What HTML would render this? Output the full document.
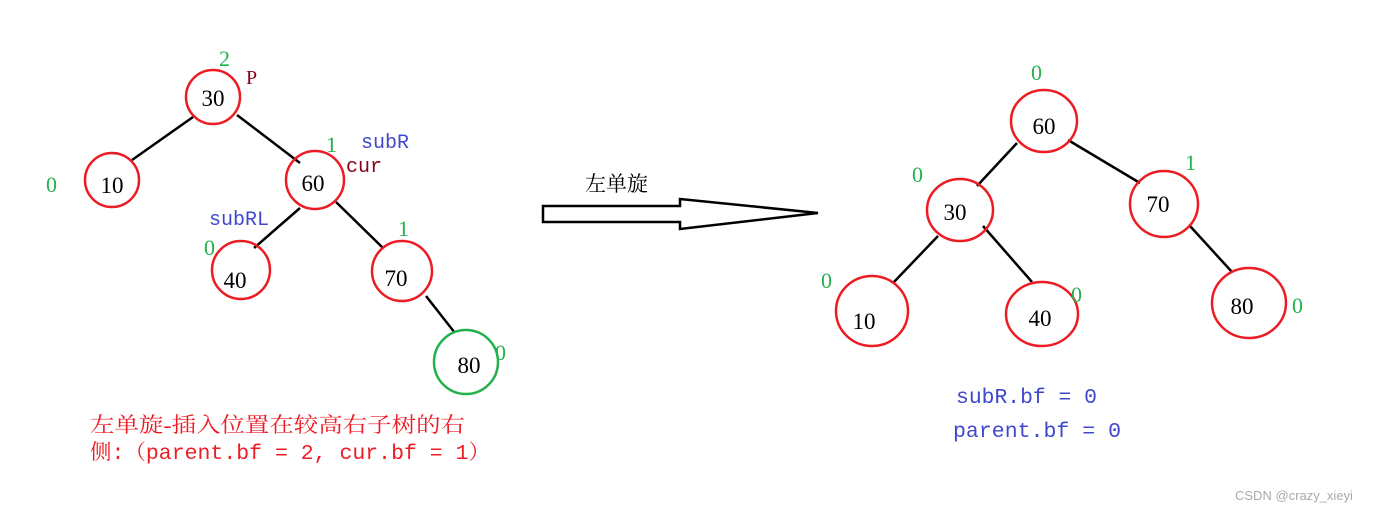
<!DOCTYPE html>
<html><head><meta charset="utf-8"><style>
html,body{margin:0;padding:0;background:#fff;}
svg{display:block;}
text{font-family:"Liberation Serif","Noto Serif CJK SC",serif;}
.n{font-size:23px;fill:#000;text-anchor:middle;}
.g{font-size:22px;fill:#22b14c;}
.b{font-size:20px;fill:#3f48cc;}
.r{font-size:20px;fill:#880015;}
.m{font-family:"Liberation Mono","Noto Serif CJK SC",monospace;}
</style></head><body>
<svg width="1388" height="514" viewBox="0 0 1388 514" xmlns="http://www.w3.org/2000/svg">
<g stroke="#000" stroke-width="2.5">
<line x1="193" y1="117" x2="132" y2="160"/>
<line x1="237" y1="115" x2="300" y2="163"/>
<line x1="300" y1="208" x2="254" y2="248"/>
<line x1="336" y1="202" x2="383" y2="248"/>
<line x1="426" y1="296" x2="455" y2="333"/>
<line x1="1017" y1="143" x2="977" y2="186"/>
<line x1="1068" y1="140" x2="1140" y2="183"/>
<line x1="938" y1="236" x2="893" y2="283"/>
<line x1="983" y1="226" x2="1032" y2="282"/>
<line x1="1190" y1="226" x2="1232" y2="272"/>
</g>
<g fill="none" stroke="#ed1c24" stroke-width="2.5">
<circle cx="213" cy="97" r="27"/>
<circle cx="112" cy="180" r="27"/>
<circle cx="315" cy="180" r="29"/>
<circle cx="241" cy="270" r="29"/>
<circle cx="402" cy="271" r="30"/>
<ellipse cx="1044" cy="121" rx="33" ry="31"/>
<ellipse cx="960" cy="210" rx="33" ry="31"/>
<ellipse cx="1164" cy="204" rx="34" ry="33"/>
<ellipse cx="872" cy="311" rx="36" ry="35"/>
<ellipse cx="1042" cy="314" rx="36" ry="32"/>
<ellipse cx="1249" cy="303" rx="37" ry="35"/>
</g>
<circle cx="466" cy="362" r="32" fill="none" stroke="#22b14c" stroke-width="2.5"/>
<text class="n" x="213" y="106">30</text>
<text class="n" x="112" y="193">10</text>
<text class="n" x="313" y="191">60</text>
<text class="n" x="235" y="288">40</text>
<text class="n" x="396" y="286">70</text>
<text class="n" x="469" y="373">80</text>
<text class="n" x="1044" y="134">60</text>
<text class="n" x="955" y="220">30</text>
<text class="n" x="1158" y="212">70</text>
<text class="n" x="864" y="329">10</text>
<text class="n" x="1040" y="326">40</text>
<text class="n" x="1242" y="314">80</text>
<text class="g" x="219" y="66">2</text>
<text class="r" x="246" y="84">P</text>
<text class="g" x="326" y="152">1</text>
<text class="b m" x="361" y="148" font-size="18">subR</text>
<text class="r m" x="346" y="172" font-size="18">cur</text>
<text class="b m" x="209" y="225" font-size="18">subRL</text>
<text class="g" x="204" y="255">0</text>
<text class="g" x="398" y="236">1</text>
<text class="g" x="495" y="360">0</text>
<text class="g" x="46" y="192">0</text>
<text class="g" x="1031" y="80">0</text>
<text class="g" x="912" y="182">0</text>
<text class="g" x="1185" y="170">1</text>
<text class="g" x="821" y="288">0</text>
<text class="g" x="1071" y="302">0</text>
<text class="g" x="1292" y="313">0</text>
<polygon points="543,206 680,206 680,199 818,213 680,229 680,222 543,222" fill="#fff" stroke="#000" stroke-width="2.5"/>
<text x="585" y="191" font-size="21" fill="#000">左单旋</text>
<text x="90" y="432" font-size="21" fill="#ed1c24" textLength="375" lengthAdjust="spacingAndGlyphs">左单旋-插入位置在较高右子树的右</text>
<text class="m" x="90" y="459" font-size="21" fill="#ed1c24" textLength="400" lengthAdjust="spacingAndGlyphs">侧:（parent.bf = 2, cur.bf = 1）</text>
<text class="m" x="956" y="403" font-size="21" fill="#3f48cc" textLength="141" lengthAdjust="spacingAndGlyphs">subR.bf = 0</text>
<text class="m" x="953" y="437" font-size="21" fill="#3f48cc" textLength="168" lengthAdjust="spacingAndGlyphs">parent.bf = 0</text>
<text x="1235" y="500" font-size="13" fill="#aaa" style="font-family:'Liberation Sans',sans-serif">CSDN @crazy_xieyi</text>
</svg>
</body></html>
